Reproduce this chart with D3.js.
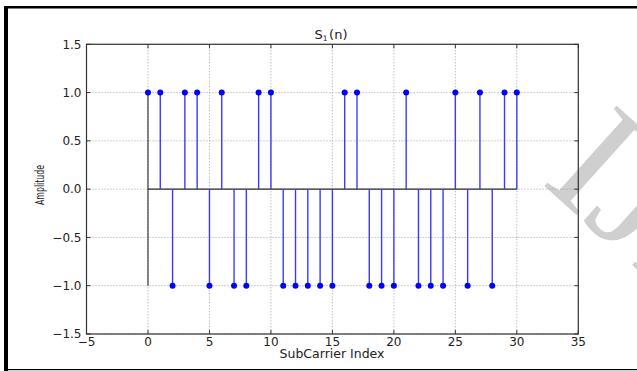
<!DOCTYPE html>
<html><head><meta charset="utf-8">
<script src="https://cdn.jsdelivr.net/npm/d3@7"></script>
<style>html,body{margin:0;padding:0;background:#fff;}svg{display:block;}</style>
</head><body>
<script>
const indices = d3.range(0, 31);
const values = [1,1,-1,1,1,-1,1,-1,-1,1,1,-1,-1,-1,-1,-1,1,1,-1,-1,-1,1,-1,-1,-1,1,-1,1,-1,1,1];
const xTicks = [-5,0,5,10,15,20,25,30,35];
const yTicks = [-1.5,-1.0,-0.5,0.0,0.5,1.0,1.5];
const titleMain = "S";
const titleSub = "1";
const titleRest = "(n)";
const xLabel = "SubCarrier Index";
const yLabel = "Amplitude";

const W = 637, H = 371;
const svg = d3.select("body").append("svg").attr("width", W).attr("height", H);
svg.append("rect").attr("width", W).attr("height", H).attr("fill", "#fff");

const L = 86.5, R = 578.3, T = 44.3, B = 334;
const x = d3.scaleLinear().domain([-5, 35]).range([L, R]);
const y = d3.scaleLinear().domain([-1.5, 1.5]).range([B, T]);
const font = "'DejaVu Sans', sans-serif";
const fmtY = v => d3.format(".1f")(v).replace("-", "\u2212");
const fmtX = v => String(v).replace("-", "\u2212");

// watermark
svg.append("text").attr("transform", "translate(540,182) rotate(42)")
  .attr("font-family", "'Liberation Serif', 'DejaVu Serif', serif")
  .attr("font-size", 165).attr("fill", "#cfcfcf")
  .text("IJE");

// grid
const g = svg.append("g");
g.selectAll("line.gx").data(xTicks).join("line")
  .attr("x1", d => x(d)).attr("x2", d => x(d)).attr("y1", T).attr("y2", B)
  .attr("stroke", "#8a8a8a").attr("stroke-width", 0.8).attr("stroke-dasharray", "1,2");
g.selectAll("line.gy").data(yTicks).join("line")
  .attr("y1", d => y(d)).attr("y2", d => y(d)).attr("x1", L).attr("x2", R)
  .attr("stroke", "#8a8a8a").attr("stroke-width", 0.8).attr("stroke-dasharray", "1,2");

// baseline
svg.append("line").attr("x1", x(0)).attr("x2", x(30)).attr("y1", y(0)).attr("y2", y(0))
  .attr("stroke", "#2a2a2a").attr("stroke-width", 1.1);
svg.append("line").attr("x1", x(0)).attr("x2", x(0)).attr("y1", y(-1)).attr("y2", y(1))
  .attr("stroke", "#2a2a2a").attr("stroke-width", 1.1);

// stems
const data = indices.map((n, i) => ({n, v: values[i]}));
svg.selectAll("line.stem").data(data.filter(d => d.n !== 0)).join("line")
  .attr("x1", d => x(d.n)).attr("x2", d => x(d.n)).attr("y1", y(0)).attr("y2", d => y(d.v))
  .attr("stroke", "#3a3aff").attr("stroke-width", 1.4);
svg.selectAll("circle.mk").data(data).join("circle")
  .attr("cx", d => x(d.n)).attr("cy", d => y(d.v)).attr("r", 3)
  .attr("fill", "#0000ff");

// frame
svg.append("rect").attr("x", L).attr("y", T).attr("width", R - L).attr("height", B - T)
  .attr("fill", "none").attr("stroke", "#333").attr("stroke-width", 1.2);

// ticks inward
const tk = svg.append("g").attr("stroke", "#333").attr("stroke-width", 1);
xTicks.forEach(v => {
  tk.append("line").attr("x1", x(v)).attr("x2", x(v)).attr("y1", B).attr("y2", B - 4);
  tk.append("line").attr("x1", x(v)).attr("x2", x(v)).attr("y1", T).attr("y2", T + 4);
});
yTicks.forEach(v => {
  tk.append("line").attr("y1", y(v)).attr("y2", y(v)).attr("x1", L).attr("x2", L + 4);
  tk.append("line").attr("y1", y(v)).attr("y2", y(v)).attr("x1", R).attr("x2", R - 4);
});

// tick labels
svg.selectAll("text.xt").data(xTicks).join("text")
  .attr("x", d => x(d)).attr("y", 345.5).attr("text-anchor", "middle")
  .attr("font-family", font).attr("font-size", 12).attr("fill", "#222")
  .text(fmtX);
svg.selectAll("text.yt").data(yTicks).join("text")
  .attr("x", L - 5).attr("y", d => y(d) + 4.3).attr("text-anchor", "end")
  .attr("font-family", font).attr("font-size", 12).attr("fill", "#222")
  .text(fmtY);

// axis labels
svg.append("text").attr("x", 332).attr("y", 358).attr("text-anchor", "middle")
  .attr("font-family", font).attr("font-size", 12.5).attr("fill", "#222").text(xLabel);
svg.append("text").attr("transform", "translate(43.5,185) rotate(-90)")
  .attr("text-anchor", "middle")
  .attr("font-family", "'Liberation Sans Narrow', 'DejaVu Sans Condensed', sans-serif")
  .attr("font-size", 13).attr("textLength", 40).attr("lengthAdjust", "spacingAndGlyphs")
  .attr("fill", "#222").text(yLabel);

// title
const tt = svg.append("text").attr("x", 331).attr("y", 39).attr("text-anchor", "middle")
  .attr("font-family", font).attr("font-size", 13).attr("fill", "#222");
tt.append("tspan").text(titleMain);
tt.append("tspan").attr("font-size", 7.5).attr("dy", 2).text(titleSub);
tt.append("tspan").attr("dy", -2).attr("dx", 1.5).text(titleRest);

// outer border
svg.append("rect").attr("x", 4).attr("y", 6).attr("width", W - 4).attr("height", 2.5).attr("fill", "#000");
svg.append("rect").attr("x", 4).attr("y", 6).attr("width", 4).attr("height", H - 6).attr("fill", "#000");
svg.append("rect").attr("x", 4).attr("y", 369).attr("width", W - 4).attr("height", 1.2).attr("fill", "#000");
</script>
</body></html>
